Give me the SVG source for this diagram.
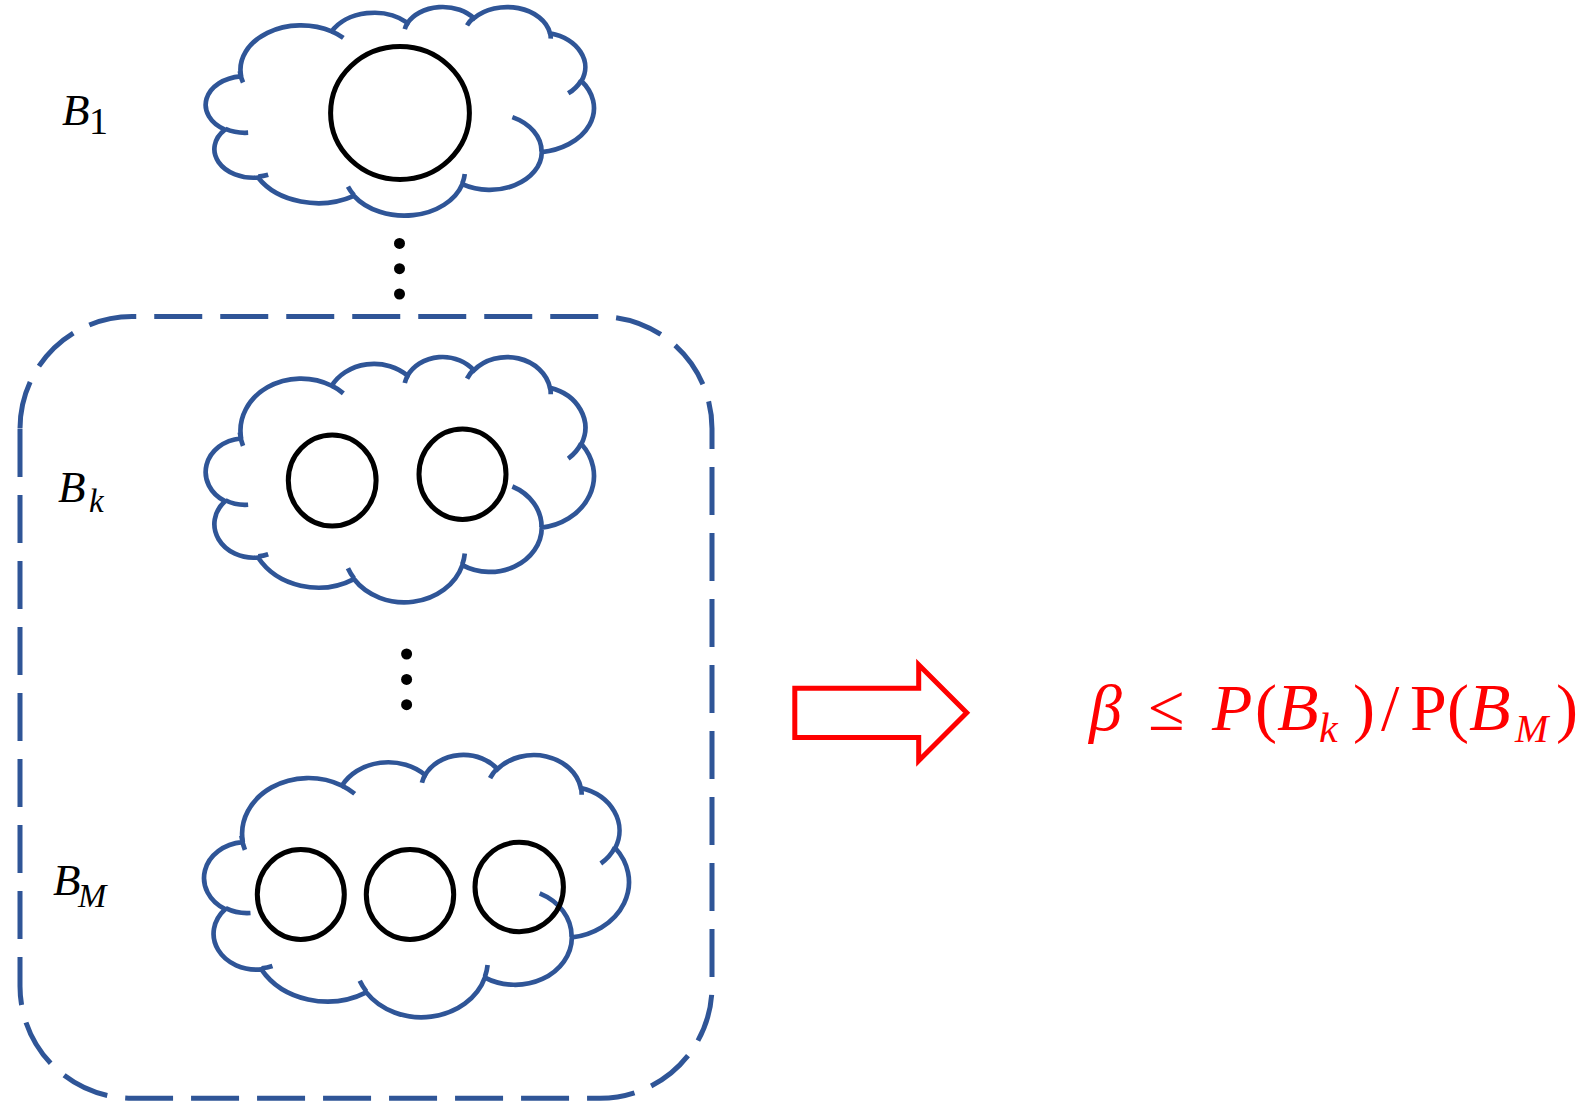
<svg xmlns="http://www.w3.org/2000/svg" xmlns:xlink="http://www.w3.org/1999/xlink" width="1590" height="1102" viewBox="0 0 1590 1102">
<style>
.cloud{fill:#FFFFFF;stroke:#2F5597;stroke-width:4.7}
.lip{fill:none;stroke:#2F5597;stroke-width:4.7}
.nss{vector-effect:non-scaling-stroke}
.ball{fill:none;stroke:#000000;stroke-width:5}
.dot{fill:#000000}
.frame{fill:none;stroke:#2F5597;stroke-width:5;stroke-dasharray:48 18}
.lbl{font-family:"Liberation Serif","DejaVu Serif",serif;font-style:italic;fill:#000000}
.up{font-style:normal}
.f{font-family:"Liberation Serif","DejaVu Serif",serif;fill:#FF0000}
.it{font-style:italic}
</style>
<defs>
<path id="cloudOuter" class="nss" vector-effect="non-scaling-stroke" d="M3900,14370 A6753,9190 0 0 1 14006,5203 A5333,7267 0 0 1 22457,3434 A4365,5945 0 0 1 29836,2485 A4857,6595 0 0 1 38320,5582 A5333,7273 0 0 1 41820,15466 A6775,9220 0 0 1 37404,30206 A5785,7867 0 0 1 28556,36816 A6752,9215 0 0 1 16478,39262 A7720,10543 0 0 1 5802,35466 A4360,5918 0 0 1 2111,25543 A4345,5945 0 0 1 3861,14500 Z"/>
<path id="cloudLips" class="nss" vector-effect="non-scaling-stroke" d="M4693,26177 A4345,5945 0 0 1 2160,25380 M6928,34899 A4360,5918 0 0 1 5820,35281 M16478,39090 A6752,9215 0 0 1 15813,37354 M28827,34751 A6752,9215 0 0 1 28560,36660 M34129,22954 A5785,7867 0 0 1 37380,30089 M41798,15354 A5333,7273 0 0 1 40350,18030 M38324,5426 A4857,6595 0 0 1 38400,6690 M29078,3952 A4857,6595 0 0 1 29821,2339 M22141,4720 A4365,5945 0 0 1 22500,3330 M14000,5192 A6753,9190 0 0 1 15300,6541 M4127,15789 A6753,9190 0 0 1 3772,13452"/>
</defs>

<g id="group-frame">
<path class="frame" d="M20,428.5 A112,112 0 0 1 132,316.5 H600 A112,112 0 0 1 712,428.5 V986.3 A112,112 0 0 1 600,1098.3 H132 A112,112 0 0 1 20,986.3 Z"/>
</g>

<g id="cloud-B1">
<g transform="translate(206,6.3) scale(0.0089769,0.0048287)">
<use xlink:href="#cloudOuter" href="#cloudOuter" class="cloud"/>
<use xlink:href="#cloudLips" href="#cloudLips" class="lip"/>
</g>
<ellipse class="ball" cx="400" cy="113" rx="69.4" ry="66.4"/>
</g>

<g id="cloud-Bk">
<g transform="translate(206,356.2) scale(0.0089769,0.0056759)">
<use xlink:href="#cloudOuter" href="#cloudOuter" class="cloud"/>
<use xlink:href="#cloudLips" href="#cloudLips" class="lip"/>
</g>
<ellipse class="ball" cx="332.2" cy="480.5" rx="43.9" ry="45.5"/>
<ellipse class="ball" cx="462.5" cy="474.2" rx="43.5" ry="45.2"/>
</g>

<g id="cloud-BM">
<g transform="translate(204.4,754.1) scale(0.0098241,0.0060694)">
<use xlink:href="#cloudOuter" href="#cloudOuter" class="cloud"/>
<use xlink:href="#cloudLips" href="#cloudLips" class="lip"/>
</g>
<ellipse class="ball" cx="300.8" cy="894.5" rx="43.5" ry="44.9"/>
<ellipse class="ball" cx="410" cy="894.5" rx="43.7" ry="44.9"/>
<ellipse class="ball" cx="519.2" cy="887" rx="44.2" ry="44.7"/>
</g>

<g id="dots-1">
<circle class="dot" cx="399.5" cy="243.4" r="5.5"/>
<circle class="dot" cx="399.5" cy="268.7" r="5.5"/>
<circle class="dot" cx="399.5" cy="294" r="5.5"/>
</g>
<g id="dots-2">
<circle class="dot" cx="406.6" cy="654" r="5.5"/>
<circle class="dot" cx="406.6" cy="679.4" r="5.5"/>
<circle class="dot" cx="406.6" cy="704.7" r="5.5"/>
</g>

<g id="label-B1">
<text class="lbl" x="62" y="125" font-size="45">B</text>
<text class="lbl up" x="89" y="134" font-size="38">1</text>
</g>
<g id="label-Bk">
<text class="lbl" x="58" y="501.7" font-size="45">B</text>
<text class="lbl" x="89" y="511.5" font-size="33">k</text>
</g>
<g id="label-BM">
<text class="lbl" x="53" y="895" font-size="45">B</text>
<text class="lbl" x="78" y="906.5" font-size="34">M</text>
</g>

<g id="arrow">
<polygon points="794.8,688.3 918.7,688.3 918.7,664.7 966.7,712.7 918.7,760.7 918.7,737.5 794.8,737.5" fill="#FFFFFF" stroke="#FF0000" stroke-width="5" stroke-miterlimit="10"/>
</g>

<g id="formula">
<text class="f it" x="1089" y="730" font-size="66">β</text>
<text class="f" x="1148" y="730" font-size="66">≤</text>
<text class="f it" x="1212" y="730" font-size="66">P</text>
<text class="f" x="1255" y="730" font-size="66">(</text>
<text class="f it" x="1277" y="730" font-size="68">B</text>
<text class="f it" x="1319" y="741.7" font-size="42">k</text>
<text class="f" x="1353" y="730" font-size="66">)</text>
<text class="f" x="1381" y="730" font-size="66">/</text>
<text class="f" x="1410" y="730" font-size="66">P</text>
<text class="f" x="1447" y="730" font-size="66">(</text>
<text class="f it" x="1469" y="730" font-size="68">B</text>
<text class="f it" x="1515" y="741.7" font-size="40">M</text>
<text class="f" x="1556" y="730" font-size="66">)</text>
</g>
</svg>
